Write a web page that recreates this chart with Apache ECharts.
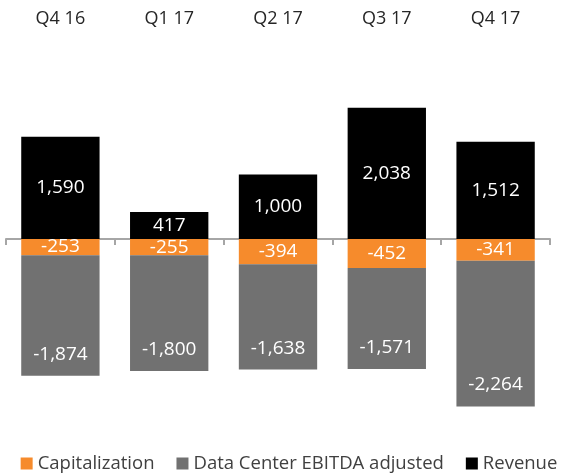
<!DOCTYPE html>
<html>
<head>
<meta charset="utf-8">
<script src="https://cdn.jsdelivr.net/npm/echarts@6/dist/echarts.min.js"></script>
<style>
  html, body { margin: 0; padding: 0; background: #fff; }
  #chart { width: 578px; height: 473px; }
</style>
</head>
<body>
<div id="chart"></div>
<script>
var categories = ['Q4 16', 'Q1 17', 'Q2 17', 'Q3 17', 'Q4 17'];
var capitalization = [-253, -255, -394, -452, -341];
var dataCenter = [-1874, -1800, -1638, -1571, -2264];
var revenue = [1590, 417, 1000, 2038, 1512];

var font = 'Open Sans';

function fmt(p) {
    return p.value.toLocaleString('en-US');
}

var myChart = echarts.init(document.getElementById('chart'));

var option = {
    animation: false,
    textStyle: { fontFamily: font },
    grid: { left: 6, right: 28, top: 46, bottom: 54 },
    legend: {
        top: 449,
        left: 'center',
        itemWidth: 12,
        itemHeight: 12,
        itemGap: 22,
        icon: 'rect',
        textStyle: { fontSize: 18.5, color: '#404040', fontFamily: font },
        data: ['Capitalization', 'Data Center EBITDA adjusted', 'Revenue']
    },
    xAxis: [{
        type: 'category',
        data: categories,
        axisLine: { onZero: true, lineStyle: { color: '#a6a6a6', width: 2 } },
        axisTick: { show: true, length: 6, lineStyle: { color: '#a6a6a6', width: 2 } },
        axisLabel: { show: false }
    }, {
        type: 'category',
        data: categories,
        position: 'top',
        axisLine: { show: false },
        axisTick: { show: false },
        axisLabel: { fontSize: 18, color: '#262626', margin: 18, fontFamily: font }
    }],
    yAxis: {
        type: 'value',
        min: -2800,
        max: 3000,
        show: false,
        splitLine: { show: false }
    },
    series: [{
        name: 'Capitalization',
        type: 'bar',
        stack: 'total',
        barWidth: '72%',
        data: capitalization,
        itemStyle: { color: '#f68b2c' },
        label: { show: true, position: 'inside', color: '#fff', fontSize: 19, formatter: fmt }
    }, {
        name: 'Data Center EBITDA adjusted',
        type: 'bar',
        stack: 'total',
        data: dataCenter,
        itemStyle: { color: '#717171' },
        label: { show: true, position: 'insideBottom', distance: 12, color: '#fff', fontSize: 19, formatter: fmt }
    }, {
        name: 'Revenue',
        type: 'bar',
        stack: 'total',
        data: revenue,
        itemStyle: { color: '#000' },
        label: { show: true, position: 'inside', color: '#fff', fontSize: 19, formatter: fmt }
    }]
};

myChart.setOption(option);
</script>
</body>
</html>
